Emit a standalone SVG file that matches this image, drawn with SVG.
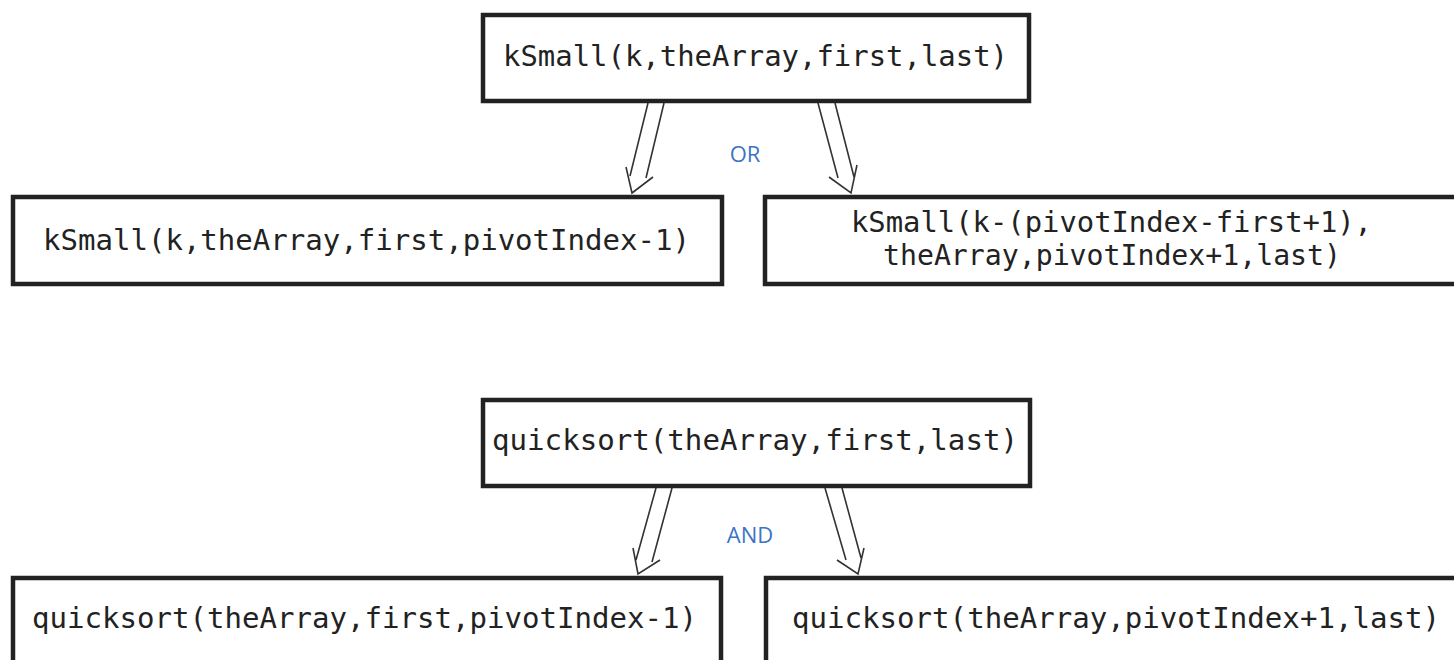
<svg xmlns="http://www.w3.org/2000/svg" width="1454" height="660" viewBox="0 0 1454 660">
<style>
.box{fill:#fff;stroke:#222;stroke-width:4.5}
.t{font-family:"DejaVu Sans Mono","Liberation Mono",monospace;font-size:29px;fill:#222}
.lbl{font-family:"Open Sans","Noto Sans",sans-serif;font-size:22px;fill:#3a74c6;text-anchor:middle}
.arr{fill:none;stroke:#333;stroke-width:1.6;stroke-linejoin:miter}
</style>
<rect width="1454" height="660" fill="#fff"/>
<g id="connectors">
<path class="arr" d="M648,103 L630,176 M664,103 L646,178 M626,167 L632,193 L653,177"/>
<path class="arr" d="M818,103 L838,178 M835,103 L854,177 M829,177 L851,193 L857,165"/>
<path class="arr" d="M656,488 L636,560 M672,488 L652,562 M633,548 L638,574 L660,560"/>
<path class="arr" d="M825,488 L846,560 M842,488 L861,558 M837,560 L858,574 L864,548"/>
</g>
<g id="label-or"><text class="lbl" x="745" y="162">OR</text></g>
<g id="label-and"><text class="lbl" x="750" y="543">AND</text></g>
<g id="n-top1">
<rect class="box" x="483" y="15" width="546" height="86"/>
<text class="t" x="503" y="66" textLength="505" lengthAdjust="spacingAndGlyphs">kSmall(k,theArray,first,last)</text>
</g>
<g id="n-left1">
<rect class="box" x="13" y="197" width="709" height="87"/>
<text class="t" x="43" y="250" textLength="647" lengthAdjust="spacingAndGlyphs">kSmall(k,theArray,first,pivotIndex-1)</text>
</g>
<g id="n-right1">
<rect class="box" x="765" y="197" width="700" height="87"/>
<text class="t" x="851" y="232" textLength="521" lengthAdjust="spacingAndGlyphs">kSmall(k-(pivotIndex-first+1),</text>
<text class="t" x="883" y="265" textLength="458" lengthAdjust="spacingAndGlyphs">theArray,pivotIndex+1,last)</text>
</g>
<g id="n-top2">
<rect class="box" x="483" y="400" width="547" height="86"/>
<text class="t" x="492" y="450" textLength="526" lengthAdjust="spacingAndGlyphs">quicksort(theArray,first,last)</text>
</g>
<g id="n-left2">
<rect class="box" x="13" y="578" width="708" height="100"/>
<text class="t" x="32" y="628" textLength="665" lengthAdjust="spacingAndGlyphs">quicksort(theArray,first,pivotIndex-1)</text>
</g>
<g id="n-right2">
<rect class="box" x="766" y="578" width="700" height="100"/>
<text class="t" x="792" y="628" textLength="648" lengthAdjust="spacingAndGlyphs">quicksort(theArray,pivotIndex+1,last)</text>
</g>
</svg>
